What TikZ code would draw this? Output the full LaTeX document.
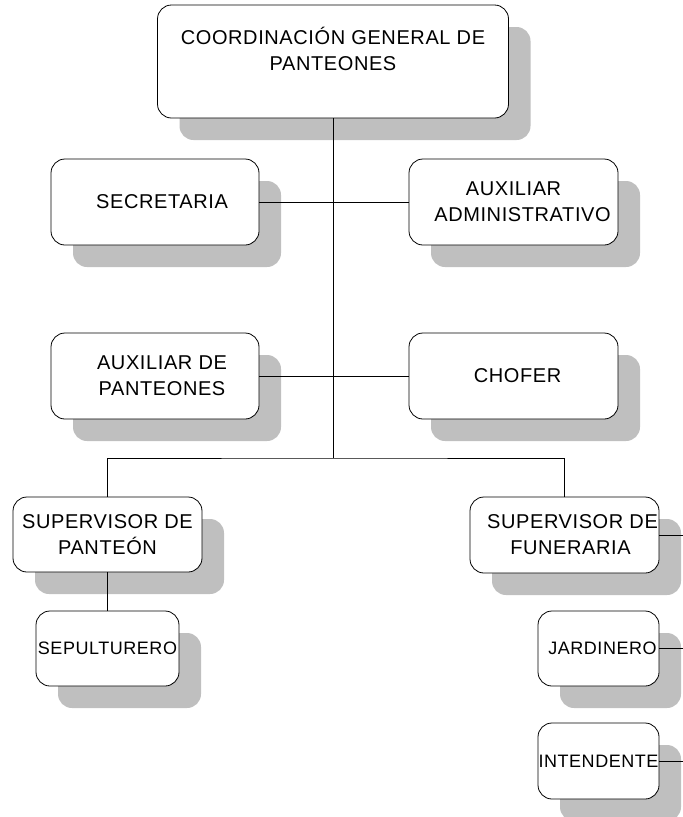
\documentclass[tikz,border=0pt]{standalone}
\usepackage{fontspec}
\setmainfont[LetterSpace=3]{Liberation Sans}
\usetikzlibrary{shadows}

\begin{document}
\begin{tikzpicture}[x=1pt,y=-1pt,
    puesto/.style={draw,fill=white,line width=0.8pt,rounded corners=14pt,
      align=center,inner sep=0pt,font=\fontsize{20}{26}\selectfont,
      drop shadow={shadow xshift=22pt,shadow yshift=-22pt,fill=black!25,opacity=1}},
    chico/.style={puesto,font=\fontsize{18}{24}\selectfont},
    linea/.style={line width=0.8pt}]
  \useasboundingbox (0,0) rectangle (683,817);

  % Coordinacion
  \node[puesto,minimum width=351pt,minimum height=113pt] (coord) at (333,61.5)
    {COORDINACIÓN GENERAL DE\\PANTEONES\\ };

  % Staff
  \node[puesto,minimum width=208pt,minimum height=86pt] (secre) at (155,202) {\hspace*{14pt}SECRETARIA};
  \node[puesto,minimum width=209pt,minimum height=86pt] (auxadm) at (513.5,202) {AUXILIAR\\\hspace*{18pt}ADMINISTRATIVO};
  \node[puesto,minimum width=208pt,minimum height=86pt] (auxpan) at (155,376) {\hspace*{14pt}AUXILIAR DE\\\hspace*{14pt}PANTEONES};
  \node[puesto,minimum width=209pt,minimum height=86pt] (chofer) at (513.5,376) {\hspace*{8pt}CHOFER};

  % Supervisores
  \node[puesto,minimum width=189pt,minimum height=75pt] (suppan) at (107.5,534.5) {SUPERVISOR DE\\PANTEÓN};
  \node[puesto,minimum width=189pt,minimum height=76pt] (supfun) at (564.5,535) {\hspace*{16pt}SUPERVISOR DE\\\hspace*{12pt}FUNERARIA};

  % Personal
  \node[chico,minimum width=143pt,minimum height=75pt] (sepul) at (107.5,648.5) {SEPULTURERO};
  \node[chico,minimum width=121pt,minimum height=75pt] (jardin) at (598.5,648.5) {\hspace*{8pt}JARDINERO};
  \node[chico,minimum width=121pt,minimum height=76pt] (intend) at (598.5,761) {INTENDENTE};

  % Lines
  \coordinate (split) at (333,458);
  \coordinate (rim) at (683,0);
  \draw[linea] (coord.south) -- (split);
  \draw[linea] (secre) -- (auxadm);
  \draw[linea] (auxpan) -- (chofer);
  \draw[linea] (suppan.north) |- (split) -| (supfun.north);
  \draw[linea] (suppan) -- (sepul);
  \draw[linea] (supfun.east) -- (supfun.east -| rim);
  \draw[linea] (jardin.east) -- (jardin.east -| rim);
  \draw[linea] (intend.east) -- (intend.east -| rim);
\end{tikzpicture}
\end{document}
